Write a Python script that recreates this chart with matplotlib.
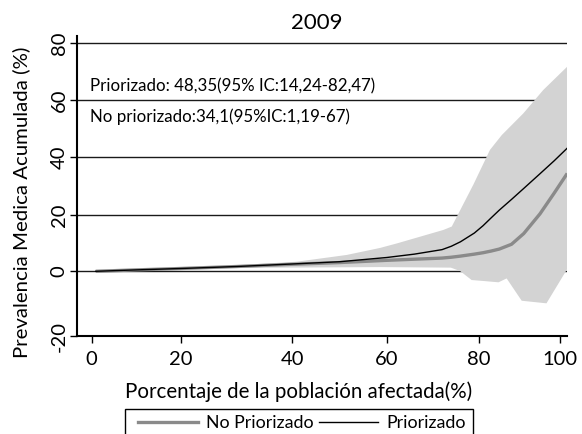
import numpy as np
import matplotlib
matplotlib.use("Agg")
import matplotlib.pyplot as plt
from matplotlib.lines import Line2D
from matplotlib.patches import Rectangle

plt.rcParams['font.family'] = ['Lato', 'DejaVu Sans']

# ---------------- data ----------------
title = "2009"
x_label = "Porcentaje de la población afectada(%)"
y_label = "Prevalencia Medica Acumulada (%)"
x_ticks = [0, 20, 40, 60, 80, 100]
y_ticks = [-20, 0, 20, 40, 60, 80]

line_x = [0.9, 10, 20, 30, 40, 50, 60, 66, 72, 74, 76, 79, 81, 83, 85, 88, 91, 95, 98.5, 101.7]
priorizado = [0, 0.5, 1.0, 1.7, 2.6, 3.4, 4.9, 6.1, 7.7, 8.9, 10.5, 13.6, 16.2, 19.0, 21.7, 25.4, 29.2, 34.3, 38.8, 43.2]
no_priorizado = [0, 0.5, 1.0, 1.7, 2.5, 3.1, 3.9, 4.3, 4.7, 5.0, 5.4, 6.1, 6.6, 7.2, 7.9, 9.6, 13.4, 20.4, 27.6, 34.4]

band_upper_x = [0.9, 10, 20, 28.8, 40.9, 51.5, 58.6, 62.2, 72.3, 74.1, 78.8, 82.7, 85.6, 90.9, 95.8, 101.7]
band_upper = [0, 0.6, 1.3, 2.0, 3.4, 5.8, 8.3, 9.9, 14.7, 15.9, 30.6, 42.6, 47.8, 55.4, 63.6, 71.8]
band_lower_x = [0.9, 10, 20, 28.8, 58.6, 73.9, 75.9, 78.4, 81.1, 84.8, 86.8, 90.5, 96.6, 101.7]
band_lower = [0, 0.3, 0.8, 1.2, 1.5, 1.3, 0.1, -2.7, -3.0, -3.4, -2.2, -9.1, -9.9, 0.8]

series_labels = ["No Priorizado", "Priorizado"]
annotations = ["Priorizado: 48,35(95% IC:14,24-82,47)",
               "No priorizado:34,1(95%IC:1,19-67)"]

# ---------------- layout ----------------
W, H = 582, 434
fig = plt.figure(figsize=(W / 100, H / 100), dpi=100)

# the reference axes are not evenly spaced: tick pixel positions
XPIX = [91.7, 181, 292.3, 386.7, 479, 560.3]
YPIX = [H - 336, H - 271.3, H - 215, H - 157.3, H - 100.3, H - 43.3]


def piecewise(d, p):
    d = np.asarray(d, float)
    p = np.asarray(p, float)

    def mk(a, b):
        def f(v):
            v = np.asarray(v, float)
            out = np.interp(v, a, b)
            out = np.where(v < a[0], b[0] + (v - a[0]) * (b[1] - b[0]) / (a[1] - a[0]), out)
            out = np.where(v > a[-1], b[-1] + (v - a[-1]) * (b[-1] - b[-2]) / (a[-1] - a[-2]), out)
            return out
        return f
    return mk(d, p), mk(p, d)


fx, ix = piecewise(x_ticks, XPIX)
fy, iy = piecewise(y_ticks, YPIX)

left, right, top, bottom = 76.7, 567.3, 36, 336
ax = fig.add_axes([left / W, (H - bottom) / H, (right - left) / W, (bottom - top) / H])
ax.set_xscale('function', functions=(fx, ix))
ax.set_yscale('function', functions=(fy, iy))
ax.set_xlim(float(ix(left)), float(ix(right)))
ax.set_ylim(float(iy(H - bottom)), float(iy(H - top)))

band_col = '#d3d3d3'
gray_col = '#8a8a8a'

for yv in y_ticks[1:]:
    ax.axhline(yv, color='#1a1a1a', lw=1.0, zorder=1)

ax.fill(band_upper_x + band_lower_x[::-1], band_upper + band_lower[::-1],
        color=band_col, lw=0, zorder=2)
ax.plot(line_x, no_priorizado, color=gray_col, lw=2.4, zorder=3, solid_capstyle='butt')
ax.plot(line_x, priorizado, color='black', lw=1.0, zorder=4)

for s in ['top', 'right']:
    ax.spines[s].set_visible(False)
for s in ['left', 'bottom']:
    ax.spines[s].set_linewidth(1.5)
    ax.spines[s].set_zorder(5)

ax.set_xticks(x_ticks)
ax.set_yticks(y_ticks)
ax.set_xticklabels([str(v) for v in x_ticks])
ax.set_yticklabels([str(v) for v in y_ticks])
ax.tick_params(axis='both', direction='out', length=5, width=1.0, labelsize=14.5, color='black')
ax.tick_params(axis='x', pad=6)
ax.tick_params(axis='y', pad=1.5, labelrotation=90)
for lab in ax.get_yticklabels():
    lab.set_va('center')
ax.minorticks_off()

ax.text(float(ix(90)), 63.0, annotations[0], fontsize=12.2, ha='left', va='baseline', zorder=6)
ax.text(float(ix(90)), 52.3, annotations[1], fontsize=12.2, ha='left', va='baseline', zorder=6)

fig.text(317 / W, 1 - 23 / H, title, fontsize=16, ha='center', va='center')
fig.text(299 / W, 1 - 391.5 / H, x_label, fontsize=14.8, ha='center', va='center')
fig.text(21 / W, 1 - 202.5 / H, y_label, fontsize=14.7, ha='center', va='center', rotation=90)

handles = [Line2D([], [], color=gray_col, lw=2.4), Line2D([], [], color='black', lw=1.0)]
fig.legend(handles, series_labels, ncol=2, loc='center left',
           bbox_to_anchor=(138 / W, 1 - 423.3 / H), frameon=False, fontsize=12.8,
           handlelength=3.35, handletextpad=0.45, columnspacing=0.3,
           borderpad=0, borderaxespad=0)
fig.patches.append(Rectangle((125 / W, -0.2), (472.7 - 125) / W, 0.2 + 1 - 409.3 / H,
                             transform=fig.transFigure, fill=False, edgecolor='black',
                             lw=1.0, clip_on=False))

fig.savefig('out.png', dpi=100)
